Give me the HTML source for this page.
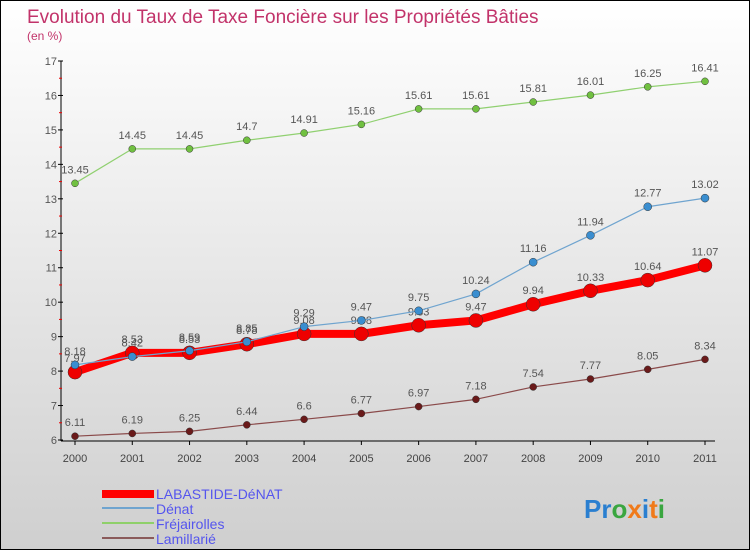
<!DOCTYPE html>
<html><head><meta charset="utf-8"><style>
body{margin:0}
#wrap{width:748px;height:548px;border:1px solid #000;background:linear-gradient(#ffffff,#cfcfcf);position:relative;font-family:"Liberation Sans",sans-serif;overflow:hidden}
</style></head><body>
<div id="wrap">
<svg id="chart" width="748" height="548">
<text x="26" y="22" font-size="19" fill="#c2336a">Evolution du Taux de Taxe Foncière sur les Propriétés Bâties</text>
<text x="26" y="39" font-size="12" fill="#c2336a">(en %)</text>
<g id="axes"></g><g id="series"></g>
<g>
<rect x="101" y="489" width="52" height="8" fill="#ff0000"/>
<text x="155" y="498" font-size="14" fill="#5555ee">LABASTIDE-DéNAT</text>
<line x1="101" y1="507" x2="153" y2="507" stroke="#6fa4cf" stroke-width="2"/>
<text x="155" y="513" font-size="14" fill="#5555ee">Dénat</text>
<line x1="101" y1="522" x2="153" y2="522" stroke="#8fd06a" stroke-width="2"/>
<text x="155" y="528" font-size="14" fill="#5555ee">Fréjairolles</text>
<line x1="101" y1="537" x2="153" y2="537" stroke="#8a5a5a" stroke-width="2"/>
<text x="155" y="543" font-size="14" fill="#5555ee">Lamillarié</text>
</g>
<text x="583" y="517" font-size="26" font-weight="bold"><tspan fill="#2a7fd0">Pr</tspan><tspan fill="#3aa640">o</tspan><tspan fill="#f07a1a">x</tspan><tspan fill="#2a7fd0">i</tspan><tspan fill="#f07a1a">t</tspan><tspan fill="#3aa640">i</tspan></text>
</svg>
</div>
<script>
const years=[2000,2001,2002,2003,2004,2005,2006,2007,2008,2009,2010,2011];
const yTicks=[6,7,8,9,10,11,12,13,14,15,16,17];
const labastide=[7.97,8.53,8.53,8.78,9.08,9.08,9.33,9.47,9.94,10.33,10.64,11.07];
const denat=[8.18,8.42,8.59,8.85,9.29,9.47,9.75,10.24,11.16,11.94,12.77,13.02];
const frejairolles=[13.45,14.45,14.45,14.7,14.91,15.16,15.61,15.61,15.81,16.01,16.25,16.41];
const lamillarie=[6.11,6.19,6.25,6.44,6.6,6.77,6.97,7.18,7.54,7.77,8.05,8.34];
const NS="http://www.w3.org/2000/svg";
const x0=74,x1=704,yb=439,yt=60,vmin=6,vmax=17;
function X(i){return x0+(x1-x0)*i/(years.length-1);}
function Y(v){return yb-(v-vmin)*(yb-yt)/(vmax-vmin);}
function mk(t,a,p){const e=document.createElementNS(NS,t);for(const k in a)e.setAttribute(k,a[k]);p.appendChild(e);return e;}
const ax=document.getElementById('axes');
let l=mk('line',{x1:60,y1:yt,x2:60,y2:yb+1,stroke:'#000'},ax);


l=mk('line',{x1:60,y1:yb+1,x2:x1+10,y2:yb+1,stroke:'#000'},ax);


yTicks.forEach(v=>{
 mk('line',{x1:57,y1:Y(v),x2:62,y2:Y(v),stroke:'#000'},ax);
 if(v<vmax) mk('line',{x1:58,y1:Y(v+0.5),x2:61,y2:Y(v+0.5),stroke:'#e00'},ax);
 const t=mk('text',{x:56,y:Y(v)+4,'font-size':11,fill:'#555','text-anchor':'end'},ax);t.textContent=v;
 
 
});
years.forEach((yr,i)=>{
 mk('line',{x1:X(i),y1:yb+1,x2:X(i),y2:yb+5,stroke:'#000'},ax);
 const t=mk('text',{x:X(i),y:yb+22,'font-size':11,fill:'#444','text-anchor':'middle'},ax);t.textContent=yr;
 
 
});
const sg=document.getElementById('series');
function series(name,vals,color,w,r,dot,lbl){
 const g=mk('g',{},sg);
 
 
 const p=mk('polyline',{points:vals.map((v,i)=>X(i)+','+Y(v)).join(' '),fill:'none',stroke:color,'stroke-width':w,'stroke-linejoin':'round'},g);
 
 
 vals.forEach((v,i)=>{
  const c=mk('circle',{cx:X(i),cy:Y(v),r:r,fill:dot,stroke:'#333','stroke-width':0.5},g);
  
  
  const t=mk('text',{x:X(i),y:Y(v)-10,'font-size':11,fill:'#555','text-anchor':'middle'},g);t.textContent=v;
  
  
 });
}
series('lamillarie',lamillarie,'#8a4a4a',1.2,3.5,'#6a1a1a');
series('frejairolles',frejairolles,'#90d070',1.2,3.5,'#70c040');
series('labastide',labastide,'#ff0000',8,7,'#ee0000');
series('denat',denat,'#6fa4cf',1.2,4,'#3a8ed0');
</script>
</body></html>
